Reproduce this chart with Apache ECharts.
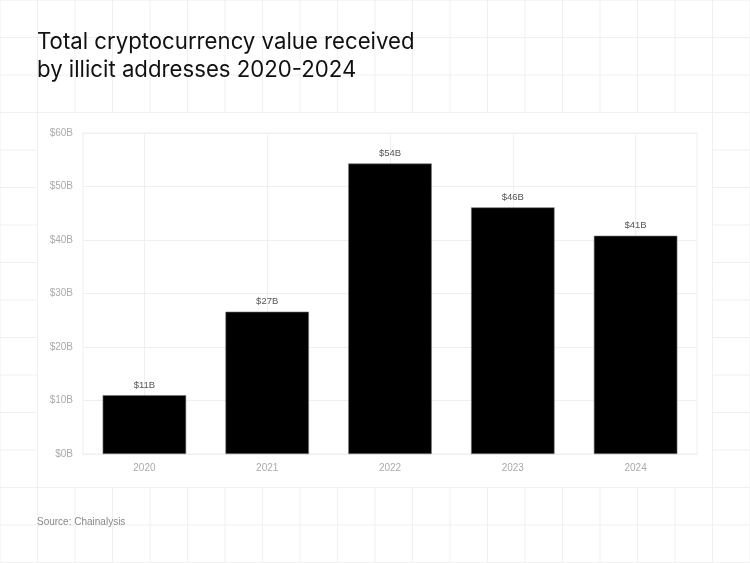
<!DOCTYPE html>
<html>
<head>
<meta charset="utf-8">
<script src="https://cdn.jsdelivr.net/npm/echarts@6/dist/echarts.min.js"></script>
<style>
html,body{margin:0;padding:0;background:#fff;}
#chart{width:750px;height:563px;}
</style>
</head>
<body>
<div id="chart"></div>
<script>
const categories = ['2020', '2021', '2022', '2023', '2024'];
const values = [11.0, 26.6, 54.3, 46.1, 40.8];
const yTicks = { min: 0, max: 60, interval: 10 };
const titleLines = ['Total cryptocurrency value received', 'by illicit addresses 2020-2024'];
const sourceText = 'Source: Chainalysis';

const chart = echarts.init(document.getElementById('chart'), null, { renderer: 'canvas' });

// decorative background grid
const bg = [];
const gridColor = '#f0f0f0';
for (let k = 0; k <= 20; k++) {
  const x = 37.5 * k;
  bg.push({ type: 'line', silent: true, z: -10, shape: { x1: x, y1: 0, x2: x, y2: 563 }, style: { stroke: gridColor, lineWidth: 1 } });
}
for (let k = 0; k <= 15; k++) {
  const y = 37.5 * k;
  bg.push({ type: 'line', silent: true, z: -10, shape: { x1: 0, y1: y, x2: 750, y2: y }, style: { stroke: gridColor, lineWidth: 1 } });
}
bg.push({ type: 'rect', silent: true, z: -9, shape: { x: 38, y: 113, width: 674, height: 374 }, style: { fill: '#fff' } });
bg.push({ type: 'text', z: 10, left: 37, top: 29, style: { text: titleLines.join('\n'), font: '400 22.2px Inter', fill: '#111', lineHeight: 27.5 } });
bg.push({ type: 'text', z: 10, left: 37, top: 517, style: { text: sourceText, font: '400 10px "Liberation Sans", Arial', fill: '#888' } });

chart.setOption({
  backgroundColor: 'transparent',
  animation: false,
  graphic: bg,
  grid: { left: 83, right: 53, top: 133, bottom: 109, show: true, borderColor: '#efefef', borderWidth: 1, backgroundColor: 'transparent' },
  xAxis: {
    type: 'category',
    data: categories,
    axisLine: { show: false },
    axisTick: { show: false, alignWithLabel: true },
    splitLine: { show: true, alignWithLabel: true, lineStyle: { color: '#efefef', width: 1 } },
    axisLabel: { color: '#aaa', fontSize: 10, fontFamily: '"Liberation Sans", Arial', margin: 9 }
  },
  yAxis: {
    type: 'value',
    min: yTicks.min, max: yTicks.max, interval: yTicks.interval,
    axisLine: { show: false },
    axisTick: { show: false },
    splitLine: { lineStyle: { color: '#efefef', width: 1 } },
    axisLabel: { color: '#aaa', fontSize: 10, fontFamily: '"Liberation Sans", Arial', margin: 10, formatter: v => '$' + v + 'B' }
  },
  series: [{
    type: 'bar',
    data: values,
    barWidth: '68%',
    itemStyle: { color: '#000', borderColor: '#777', borderWidth: 0.6 },
    label: { show: true, position: 'top', distance: 5, color: '#555', fontSize: 9.5, fontFamily: '"Liberation Sans", Arial', formatter: p => '$' + Math.round(p.value) + 'B' }
  }]
});
</script>
</body>
</html>
